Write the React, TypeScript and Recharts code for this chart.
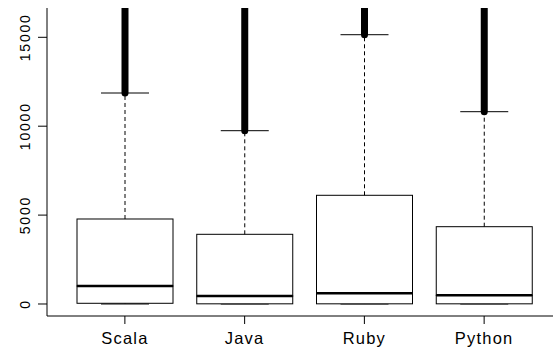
import React from 'react';
import { ComposedChart, Bar, XAxis, YAxis } from 'recharts';

const CATEGORIES = ['Scala', 'Java', 'Ruby', 'Python'];
const WHISKER_LOW = [0, 0, 0, 0];
const Q1 = [40, 10, 10, 10];
const MEDIAN = [1012, 450, 602, 489];
const Q3 = [4781, 3920, 6114, 4348];
const WHISKER_HIGH = [11867, 9747, 15146, 10816];
const OUTLIER_MAX = [30000, 30000, 30000, 30000];
const Y_TICKS = [0, 5000, 10000, 15000];
const Y_DOMAIN: [number, number] = [-675, 16648];

const data = CATEGORIES.map((name, i) => ({
  name,
  lo: WHISKER_LOW[i],
  lowSeg: Q1[i] - WHISKER_LOW[i],
  boxLow: MEDIAN[i] - Q1[i],
  boxHigh: Q3[i] - MEDIAN[i],
  whisk: WHISKER_HIGH[i] - Q3[i],
  out: OUTLIER_MAX[i] - WHISKER_HIGH[i],
}));

const FONT = '"Liberation Sans", Arial, Helvetica, sans-serif';

const Empty = () => <g />;

const LowerWhisker = (p: any) => {
  const cx = p.x + p.width / 2;
  const capW = p.width / 4;
  const bottom = p.y + p.height;
  return (
    <g>
      <line x1={cx} y1={p.y} x2={cx} y2={bottom} stroke="#000" strokeDasharray="4 3" />
      <line x1={cx - capW} y1={bottom} x2={cx + capW} y2={bottom} stroke="#000" />
    </g>
  );
};

const BoxLow = (p: any) => (
  <rect x={p.x} y={p.y} width={p.width} height={Math.max(p.height, 0)} fill="#fff" stroke="#000" strokeWidth={1} />
);

const BoxHigh = (p: any) => (
  <g>
    <rect x={p.x} y={p.y} width={p.width} height={Math.max(p.height, 0)} fill="#fff" stroke="#000" strokeWidth={1} />
    <line x1={p.x} y1={p.y + p.height} x2={p.x + p.width} y2={p.y + p.height} stroke="#000" strokeWidth={2.6} />
  </g>
);

const UpperWhisker = (p: any) => {
  const cx = p.x + p.width / 2;
  const capW = p.width / 4;
  return (
    <g>
      <line x1={cx} y1={p.y + p.height} x2={cx} y2={p.y} stroke="#000" strokeDasharray="4 3" />
      <line x1={cx - capW} y1={p.y} x2={cx + capW} y2={p.y} stroke="#000" />
    </g>
  );
};

const Outliers = (p: any) => {
  const cx = p.x + p.width / 2;
  return (
    <line x1={cx} y1={p.y + p.height} x2={cx} y2={p.y} stroke="#000" strokeWidth={7} strokeLinecap="round" />
  );
};

const XTick = (p: any) => (
  <text x={p.x} y={p.y + 17.5} textAnchor="middle" fontFamily={FONT} fontSize={16.5} letterSpacing={1.2} fill="#000">
    {p.payload.value}
  </text>
);

const YTick = (p: any) => {
  const bx = p.x - 5.5;
  return (
    <text
      x={bx}
      y={p.y}
      transform={`rotate(-90, ${bx}, ${p.y})`}
      textAnchor="middle"
      fontFamily={FONT}
      fontSize={14}
      letterSpacing={1.8}
      fill="#000"
    >
      {p.payload.value}
    </text>
  );
};

export default function App() {
  return (
    <div style={{ position: 'absolute', left: 0, top: 0, width: 553, height: 347, overflow: 'hidden', background: '#fff' }}>
      <ComposedChart
        width={600}
        height={347}
        data={data}
        margin={{ top: 8, right: 36, bottom: 0, left: 0 }}
        barSize={96}
      >
        <XAxis
          dataKey="name"
          height={31}
          padding={{ left: 18, right: 20 }}
          axisLine={{ stroke: '#000' }}
          tickLine={{ stroke: '#000' }}
          tickSize={8}
          tick={<XTick />}
          interval={0}
        />
        <XAxis
          xAxisId="top"
          orientation="top"
          dataKey="name"
          height={0}
          padding={{ left: 18, right: 20 }}
          axisLine={{ stroke: '#000' }}
          tickLine={false}
          tick={false}
        />
        <YAxis
          width={47}
          domain={Y_DOMAIN}
          allowDataOverflow
          ticks={Y_TICKS}
          axisLine={{ stroke: '#000' }}
          tickLine={{ stroke: '#000' }}
          tickSize={9}
          tick={<YTick />}
          interval={0}
        />
        <Bar dataKey="lo" stackId="b" shape={<Empty />} isAnimationActive={false} />
        <Bar dataKey="lowSeg" stackId="b" shape={<LowerWhisker />} isAnimationActive={false} />
        <Bar dataKey="boxLow" stackId="b" shape={<BoxLow />} isAnimationActive={false} />
        <Bar dataKey="boxHigh" stackId="b" shape={<BoxHigh />} isAnimationActive={false} />
        <Bar dataKey="whisk" stackId="b" shape={<UpperWhisker />} isAnimationActive={false} />
        <Bar dataKey="out" stackId="b" shape={<Outliers />} isAnimationActive={false} />
      </ComposedChart>
    </div>
  );
}
